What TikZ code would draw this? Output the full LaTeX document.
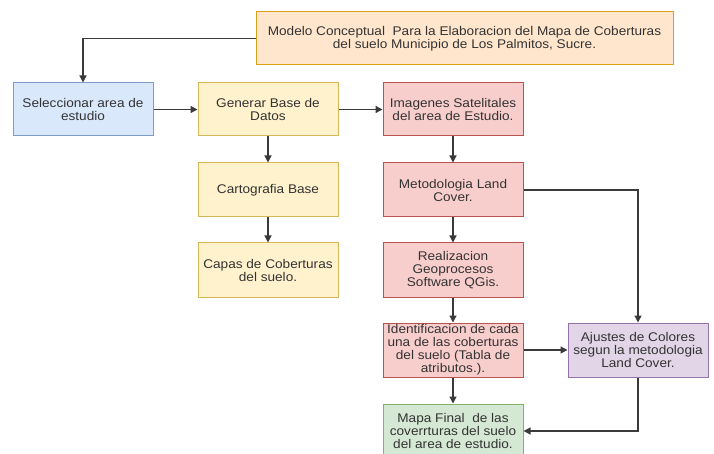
\documentclass[tikz,border=0pt]{standalone}
\usepackage{fontspec}
\setmainfont{Liberation Sans}[FakeStretch=1.08]
\usetikzlibrary{arrows.meta}
\definecolor{txtc}{HTML}{333333}
\definecolor{linec}{HTML}{3A3A3A}
\definecolor{orgF}{HTML}{FFE6CC}\definecolor{orgD}{HTML}{D7A21A}
\definecolor{bluF}{HTML}{DAE8FC}\definecolor{bluD}{HTML}{7E9CC8}
\definecolor{yelF}{HTML}{FFF2CC}\definecolor{yelD}{HTML}{D6B656}
\definecolor{redF}{HTML}{F8CECC}\definecolor{redD}{HTML}{B85450}
\definecolor{purF}{HTML}{E1D5E7}\definecolor{purD}{HTML}{9673A6}
\definecolor{grnF}{HTML}{D5E8D4}\definecolor{grnD}{HTML}{82B366}
\tikzset{
  box/.style={draw, line width=1pt, minimum width=140pt, minimum height=54pt,
    inner sep=0pt, align=center, text=txtc,
    font=\fontsize{12.6pt}{13pt}\selectfont},
  orgbox/.style={box, fill=orgF, draw=orgD},
  blubox/.style={box, fill=bluF, draw=bluD},
  yelbox/.style={box, fill=yelF, draw=yelD},
  redbox/.style={box, fill=redF, draw=redD},
  purbox/.style={box, fill=purF, draw=purD},
  grnbox/.style={box, fill=grnF, draw=grnD},
  conn/.style={draw=linec, line width=1.3pt, -{Triangle[length=7pt,width=7pt]}},
}
\begin{document}
\begin{tikzpicture}[x=1pt,y=-1pt]
\useasboundingbox (0,0) rectangle (714,454);
\node[orgbox, minimum width=417pt, minimum height=53pt] (title) at (464.5,38.5)
  {Modelo Conceptual\ \ Para la Elaboracion del Mapa de Coberturas\\del suelo Municipio de Los Palmitos, Sucre.};
\node[blubox, minimum height=53pt] (sel) at (83,109.5) {Seleccionar area de\\estudio};
\node[yelbox, minimum height=53pt] (gen) at (268,109.5) {Generar Base de\\Datos};
\node[redbox, minimum height=53pt] (img) at (453,109.5) {Imagenes Satelitales\\del area de Estudio.};
\node[yelbox] (carto) at (268,190) {Cartografia Base};
\node[yelbox] (capas) at (268,270) {Capas de Coberturas\\del suelo.};
\node[redbox] (meto) at (453,190) {Metodologia Land\\Cover.};
\node[redbox] (real) at (453,270) {Realizacion\\Geoprocesos\\Software QGis.};
\node[redbox] (ident) at (453,350) {Identificacion de cada\\una de las coberturas\\del suelo (Tabla de\\atributos.).};
\node[purbox] (aju) at (638,350) {Ajustes de Colores\\segun la metodologia\\Land Cover.};
\node[grnbox] (mapa) at (453,431) {Mapa Final\ \ de las\\coverrturas del suelo\\del area de estudio.};
\draw[conn] (title.west) -| (sel.north);
\draw[conn] (sel) -- (gen);
\draw[conn] (gen) -- (img);
\draw[conn] (gen) -- (carto);
\draw[conn] (carto) -- (capas);
\draw[conn] (img) -- (meto);
\draw[conn] (meto) -- (real);
\draw[conn] (real) -- (ident);
\draw[conn] (ident) -- (mapa);
\draw[conn] (ident) -- (aju);
\draw[conn] (meto.east) -| (aju.north);
\draw[conn] (aju.south) |- (mapa.east);
\end{tikzpicture}
\end{document}
